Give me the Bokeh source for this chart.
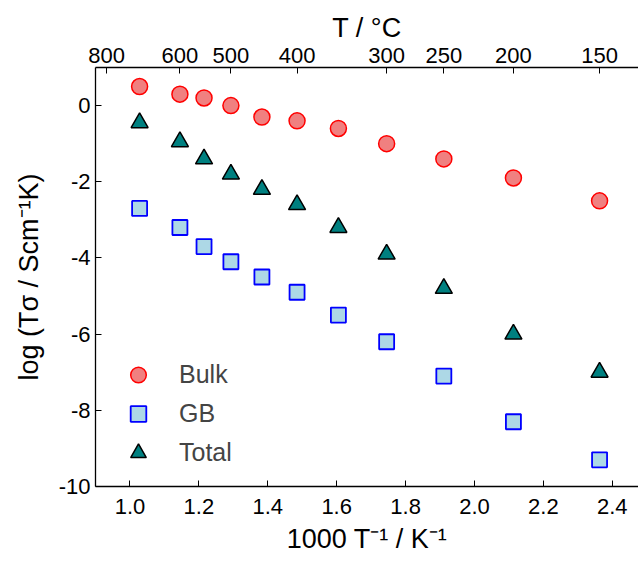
from bokeh.plotting import figure
from bokeh.models import LinearAxis, FixedTicker, Range1d, Legend, LegendItem
from bokeh.embed import file_html
from bokeh.resources import INLINE

# ---- data ----
inv_T = [1.028, 1.145, 1.215, 1.293, 1.383, 1.485, 1.605, 1.745, 1.911, 2.113, 2.363]
bulk = [0.5, 0.3, 0.2, 0.0, -0.3, -0.4, -0.6, -1.0, -1.4, -1.9, -2.5]
gb = [-2.7, -3.2, -3.7, -4.1, -4.5, -4.9, -5.5, -6.2, -7.1, -8.3, -9.3]
total = [-0.45, -0.95, -1.4, -1.8, -2.2, -2.6, -3.2, -3.9, -4.8, -6.0, -7.0]

x_ticks = [1.0, 1.2, 1.4, 1.6, 1.8, 2.0, 2.2, 2.4]
y_ticks = [0, -2, -4, -6, -8, -10]
temp_pos = [0.932, 1.145, 1.293, 1.485, 1.745, 1.911, 2.113, 2.363]
temp_labels = ["800", "600", "500", "400", "300", "250", "200", "150"]

FONT = "Liberation Sans"

p = figure(width=638, height=561, output_backend="svg", toolbar_location=None,
           x_range=Range1d(0.9, 2.476), y_range=Range1d(-10, 1),
           min_border_left=95, min_border_right=0, min_border_top=67,
           min_border_bottom=75)
p.outline_line_color = None
p.xgrid.visible = False
p.ygrid.visible = False
p.background_fill_color = "white"
p.border_fill_color = "white"

def style_axis(ax):
    ax.major_tick_in = 6
    ax.major_tick_out = 0
    ax.minor_tick_in = 0
    ax.minor_tick_out = 0
    ax.axis_line_width = 1.3
    ax.major_tick_line_width = 1
    ax.major_label_text_font = FONT
    ax.major_label_text_font_size = "22px"
    ax.major_label_text_color = "black"
    ax.axis_label_text_font = FONT
    ax.axis_label_text_font_size = "27px"
    ax.axis_label_text_font_style = "normal"
    ax.axis_label_text_color = "black"
    ax.axis_line_color = "black"
    ax.major_tick_line_color = "black"

xa = p.xaxis[0]
xa.ticker = FixedTicker(ticks=x_ticks)
xa.major_label_overrides = {t: f"{t:.1f}" for t in x_ticks}
style_axis(xa)
xa.major_label_standoff = 12
xa.axis_label = "1000 T⁻¹ / K⁻¹"
xa.axis_label_standoff = 7

ya = p.yaxis[0]
ya.ticker = FixedTicker(ticks=y_ticks)
ya.major_label_overrides = {t: str(t) for t in y_ticks}
style_axis(ya)
ya.major_label_standoff = 5
ya.axis_label = "log (Tσ / Scm⁻¹K)"
ya.axis_label_standoff = 12

top = LinearAxis(ticker=FixedTicker(ticks=temp_pos),
                 major_label_overrides={pos: lab for pos, lab in zip(temp_pos, temp_labels)})
style_axis(top)
top.major_label_standoff = 5
top.axis_label = "T / °C"
top.axis_label_standoff = 2
p.add_layout(top, "above")

r_bulk = p.scatter(inv_T, bulk, marker="circle", size=16, fill_color="#F08080",
                   line_color="red", line_width=1.5)
r_gb = p.scatter(inv_T, gb, marker="square", size=15, fill_color="#ADD8E6",
                 line_color="blue", line_width=1.8)
r_tot = p.scatter(inv_T, total, marker="triangle", size=17, fill_color="#008080",
                  line_color="black", line_width=1.5)

legend = Legend(items=[LegendItem(label="Bulk", renderers=[r_bulk]),
                       LegendItem(label="GB", renderers=[r_gb]),
                       LegendItem(label="Total", renderers=[r_tot])],
                location=(23, 14), glyph_width=40, glyph_height=39,
                label_standoff=21, spacing=0, padding=0, margin=0,
                border_line_color=None, background_fill_alpha=0,
                label_text_font=FONT, label_text_font_size="25px")
p.add_layout(legend)

open("out.html", "w").write(file_html(p, INLINE))
